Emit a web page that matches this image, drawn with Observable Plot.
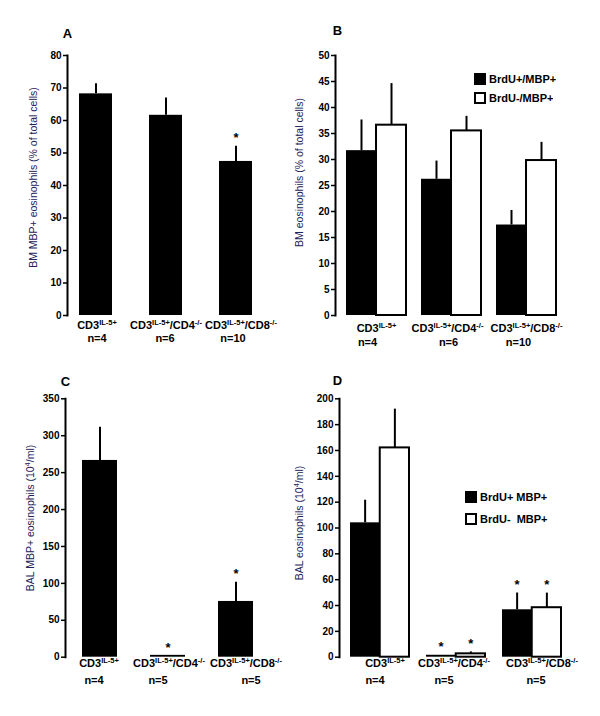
<!DOCTYPE html>
<html><head><meta charset="utf-8">
<script src="https://cdn.jsdelivr.net/npm/d3@7"></script>
<script src="https://cdn.jsdelivr.net/npm/@observablehq/plot@0.6"></script>
<style>
body{margin:0;background:#fff;}
#fig{position:relative;width:600px;height:716px;overflow:hidden;font-family:"Liberation Sans",Arial,sans-serif;}
#fig > svg, #fig > div{position:absolute;}
.lg-swatches{font-family:"Liberation Sans",Arial,sans-serif !important;font-size:11px !important;font-weight:bold;color:#000;margin:0 !important;}
.lg-swatch svg{margin-right:4px !important;overflow:visible;}
.lg-swatch svg rect{stroke:#000;stroke-width:2px;}
#legB .lg-swatch{padding-bottom:7px !important;}
#legD .lg-swatch{padding-bottom:10px !important;}
</style></head><body><div id="fig"></div>
<script>
// ---- data ----
const groups = ["CD3^{IL-5+}", "CD3^{IL-5+}/CD4^{-/-}", "CD3^{IL-5+}/CD8^{-/-}"];
const nBM = ["n=4", "n=6", "n=10"];
const nBAL = ["n=4", "n=5", "n=5"];

const aMean = [68.2, 61.6, 47.4];
const aSem = [3.1, 5.3, 4.7];
const aSig = [false, false, true];

const bPos = [31.7, 26.2, 17.4];
const bPosSem = [5.9, 3.5, 2.8];
const bNeg = [36.6, 35.5, 29.8];
const bNegSem = [8.0, 2.8, 3.5];
const bSig = [false, false, false];

const cMean = [266.5, 2.5, 75.5];
const cSem = [45, 0, 26];
const cSig = [false, true, true];

const dPos = [104, 1.5, 36.7];
const dPosSem = [17.5, 0, 13];
const dNeg = [162, 2.6, 38.3];
const dNegSem = [30, 1.5, 11.3];
const dSig = [false, true, true];

const ticksA = [0, 10, 20, 30, 40, 50, 60, 70, 80];
const ticksB = [0, 5, 10, 15, 20, 25, 30, 35, 40, 45, 50];
const ticksC = [0, 50, 100, 150, 200, 250, 300, 350];
const ticksD = [0, 20, 40, 60, 80, 100, 120, 140, 160, 180, 200];

const legendB = ["BrdU+/MBP+", "BrdU-/MBP+"];
const legendD = ["BrdU+ MBP+", "BrdU-\u00a0 MBP+"];
const seriesColors = ["black", "white"];

// ---- drawing ----
const FONT = '"Liberation Sans", Arial, sans-serif';
const LABEL_COLOR = "#22225a";
const fig = document.getElementById("fig");

function richText(svg) {
  d3.select(svg).selectAll("text").each(function () {
    const t = d3.select(this);
    if (this.querySelector("tspan")) return;
    const s = t.text();
    if (!s.includes("^{")) return;
    t.text(null);
    const parts = s.split(/\^\{([^}]*)\}/);
    let raised = false;
    parts.forEach((p, i) => {
      if (!p) return;
      const ts = t.append("tspan").text(p);
      if (i % 2) { ts.attr("font-size", "7.5px").attr("dy", raised ? null : -4); raised = true; }
      else { if (raised) ts.attr("dy", 4); raised = false; }
    });
  });
}

function makePanel(cfg) {
  const n = groups.length;
  const step = (cfg.range[1] - cfg.range[0]) / (n - cfg.padding);
  const bw = step * (1 - cfg.padding);
  const marks = [];
  cfg.series.forEach((s) => {
    const data = groups.map((g, i) => ({ g, v: s.values[i], e: s.values[i] + s.sem[i], sig: s.sig[i] }));
    const half = s.side === "full" ? 0 : bw / 2;
    const off = s.side === "left" ? -bw / 4 : s.side === "right" ? bw / 4 : 0;
    marks.push(Plot.barY(data, {
      x: "g", y: "v", fill: s.fill,
      stroke: s.fill === "white" ? "black" : "none", strokeWidth: 2,
      insetLeft: s.side === "right" ? half : 0,
      insetRight: s.side === "left" ? half : 0
    }));
    marks.push(Plot.ruleX(data.filter((d) => d.e > d.v), { x: "g", y1: "v", y2: "e", stroke: "black", strokeWidth: 2, dx: off }));
    marks.push(Plot.text(data.filter((d) => d.sig), { x: "g", y: "e", text: () => "*", dx: off, dy: cfg.starDy, fontSize: 13 }));
  });
  marks.push(Plot.frame({ anchor: "left", stroke: "black", strokeWidth: 2 }));
  marks.push(Plot.axisY({ ticks: cfg.ticks, tickSize: 4, tickPadding: 2, strokeWidth: 1.5, label: null, fontSize: 10, fontWeight: "bold" }));
  groups.forEach((g, i) => {
    marks.push(Plot.text([g], { x: (d) => d, text: (d) => d, frameAnchor: "bottom", lineAnchor: "middle", dx: cfg.lab1Shift[i], dy: cfg.lab1Dy, fontSize: 11 }));
    marks.push(Plot.text([{ g, t: cfg.nLabels[i] }], { x: "g", text: "t", frameAnchor: "bottom", lineAnchor: "middle", dx: cfg.lab2Shift[i], dy: cfg.lab2Dy, fontSize: 11 }));
  });
  marks.push(Plot.text([cfg.yLabel], { frameAnchor: "left", textAnchor: "middle", lineAnchor: "middle", rotate: -90, dx: cfg.labelDx, dy: cfg.labelDy, fill: LABEL_COLOR, fontWeight: "normal", fontSize: 10.5 }));
  marks.push(Plot.text([cfg.letter], { frameAnchor: "top-left", textAnchor: "middle", lineAnchor: "middle", dx: cfg.letterDx || 0, dy: cfg.letterDy, fontSize: 13 }));

  const svg = Plot.plot({
    width: cfg.width, height: cfg.height,
    marginLeft: cfg.axisX, marginRight: 10, marginTop: cfg.marginTop, marginBottom: cfg.marginBottom,
    x: { type: "band", domain: groups, range: cfg.range, paddingInner: cfg.padding, paddingOuter: 0, axis: null },
    y: { domain: cfg.yDomain, axis: null },
    style: { fontFamily: FONT, fontSize: "10px", fontWeight: "bold", color: "black", background: "transparent", overflow: "visible" },
    marks
  });
  svg.style.left = cfg.left + "px";
  svg.style.top = cfg.top + "px";
  richText(svg);
  fig.appendChild(svg);
}

function makeLegend(id, labels, left, top) {
  const leg = Plot.legend({
    color: { type: "categorical", domain: labels, range: seriesColors },
    columns: 1, swatchSize: 10, className: "lg"
  });
  const wrap = document.createElement("div");
  wrap.id = id;
  wrap.style.left = left + "px";
  wrap.style.top = top + "px";
  wrap.appendChild(leg);
  fig.appendChild(wrap);
}

makePanel({
  left: 0, top: 0, width: 290, height: 358, axisX: 67, marginTop: 55, marginBottom: 43,
  range: [78, 253], padding: 0.535, yDomain: [0, 80], ticks: ticksA,
  series: [{ values: aMean, sem: aSem, sig: aSig, fill: "black", side: "full" }],
  nLabels: nBM, yLabel: "BM MBP+ eosinophils (% of total cells)", labelDx: -34, labelDy: -8,
  letter: "A", letterDy: -22, lab1Dy: 10, lab2Dy: 23, starDy: -8,
  lab1Shift: [1, 0, 5], lab2Shift: [1, -1, -3]
});
makePanel({
  left: 290, top: 0, width: 310, height: 358, axisX: 45, marginTop: 55, marginBottom: 43,
  range: [55.7, 266.7], padding: 0.205, yDomain: [0, 50], ticks: ticksB,
  series: [
    { values: bPos, sem: bPosSem, sig: bSig, fill: "black", side: "left" },
    { values: bNeg, sem: bNegSem, sig: bSig, fill: "white", side: "right" }
  ],
  nLabels: nBM, yLabel: "BM eosinophils (% of total cells)", labelDx: -36, labelDy: -13,
  letter: "B", letterDx: 2, letterDy: -25, lab1Dy: 13, lab2Dy: 27, starDy: -8,
  lab1Shift: [0, -4, 0], lab2Shift: [-9, -3, -8]
});
makePanel({
  left: 0, top: 358, width: 290, height: 358, axisX: 65, marginTop: 40.3, marginBottom: 59.3,
  range: [81.7, 253.3], padding: 0.488, yDomain: [0, 350], ticks: ticksC,
  series: [{ values: cMean, sem: cSem, sig: cSig, fill: "black", side: "full" }],
  nLabels: nBAL, yLabel: "BAL MBP+ eosinophils (10^{4}/ml)", labelDx: -35, labelDy: -10,
  letter: "C", letterDy: -17, lab1Dy: 6.5, lab2Dy: 23.5, starDy: -8,
  lab1Shift: [-1, 1, 10], lab2Shift: [-6, -10, 15]
});
makePanel({
  left: 290, top: 358, width: 310, height: 358, axisX: 49, marginTop: 40.3, marginBottom: 59.3,
  range: [59.3, 271.7], padding: 0.222, yDomain: [0, 200], ticks: ticksD,
  series: [
    { values: dPos, sem: dPosSem, sig: dSig, fill: "black", side: "left" },
    { values: dNeg, sem: dNegSem, sig: dSig, fill: "white", side: "right" }
  ],
  nLabels: nBAL, yLabel: "BAL eosinophils (10^{4}/ml)", labelDx: -40, labelDy: -5,
  letter: "D", letterDx: -2, letterDy: -18, lab1Dy: 6, lab2Dy: 23.5, starDy: -8,
  lab1Shift: [5, -2, 10], lab2Shift: [-5, -12, 4]
});
makeLegend("legB", legendB, 475, 73);
makeLegend("legD", legendD, 466, 491);
</script></body></html>
